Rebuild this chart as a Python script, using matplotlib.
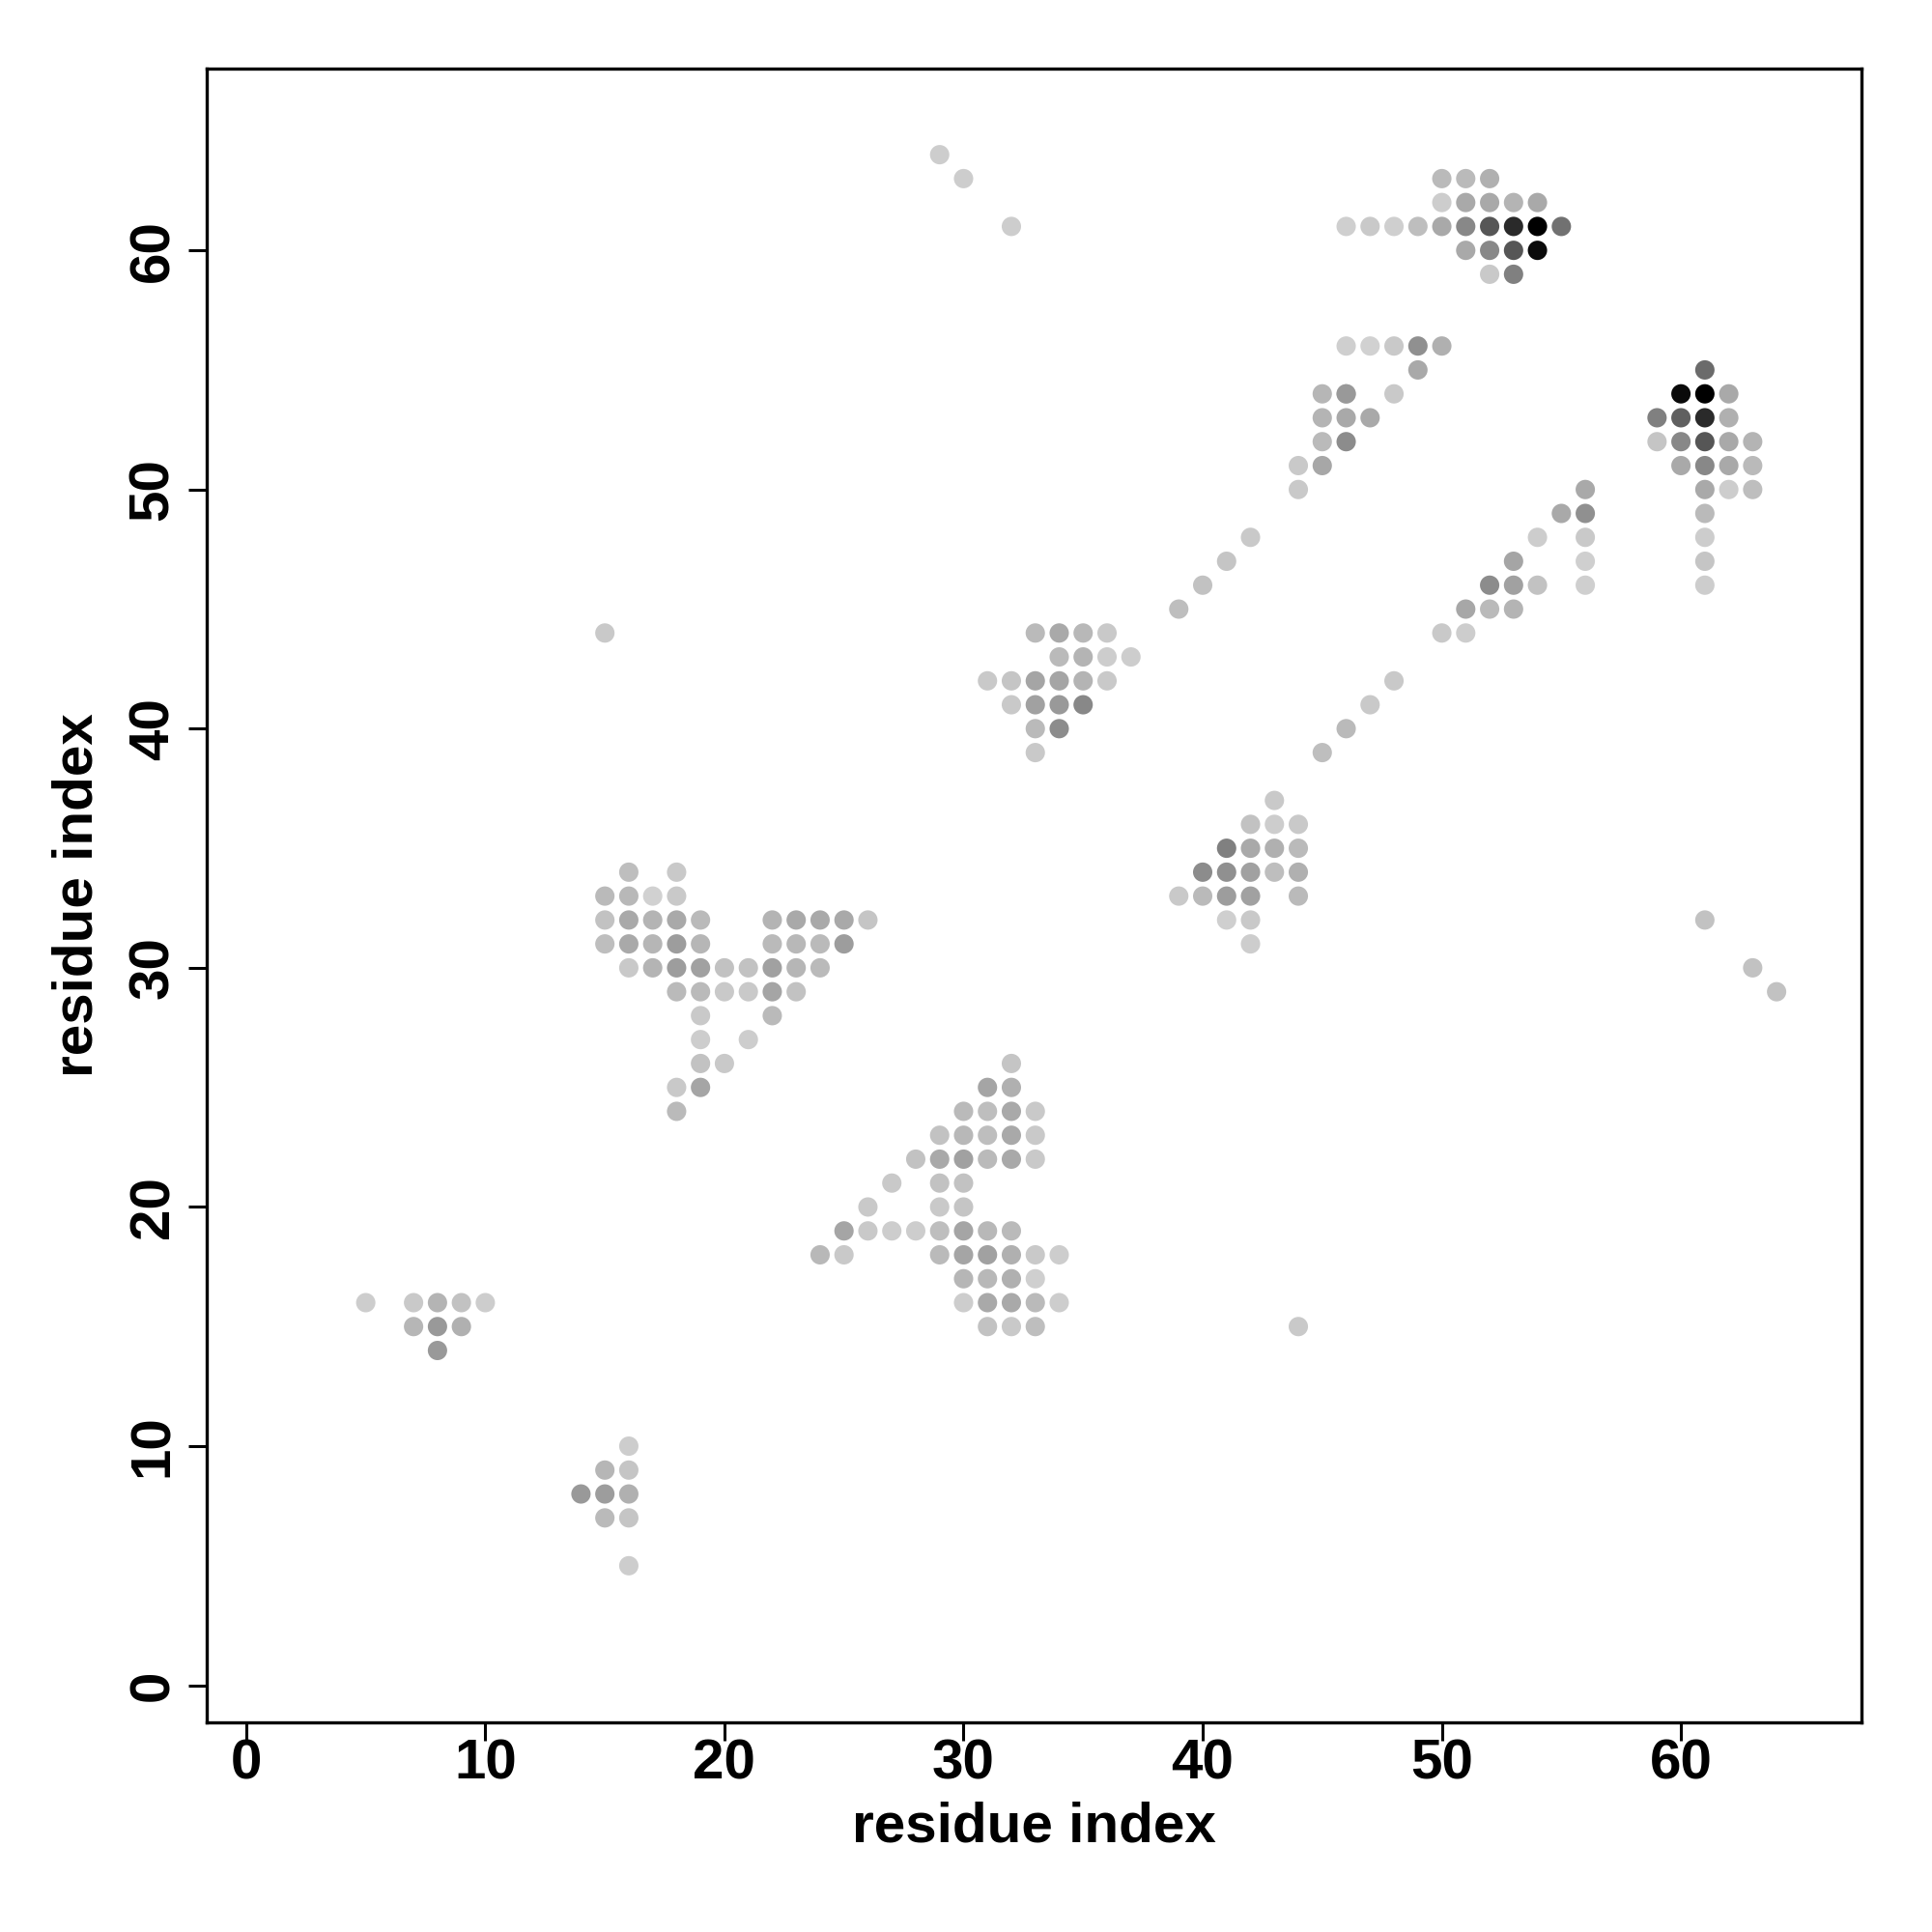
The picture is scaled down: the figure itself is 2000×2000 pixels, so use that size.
import matplotlib
matplotlib.use("Agg")
import matplotlib.pyplot as plt

# contact map: residue i, residue j, contact strength (0 = faint, 1 = strongest)
res_i = [
    5, 7, 8, 9, 10, 7, 8, 9, 8,
    16, 15, 16, 14, 15, 16, 15, 16, 16,
    32, 31, 32, 30, 31, 32, 33, 29, 30, 31, 32, 33,
    28, 29, 30, 31, 32, 33, 27, 29, 30, 26, 29, 30,
    25, 26, 27, 28, 29, 30, 31, 32,
    24, 25, 29, 30, 31, 32, 33, 34,
    30, 31, 32, 33, 30, 31, 32, 33, 34, 31, 32, 33,
    44,
    16, 18, 15, 16, 17, 18,
    15, 16, 17, 18, 19, 22, 23, 24, 25, 26,
    15, 16, 17, 18, 19, 22, 23, 24, 25,
    16, 17, 18, 19, 20, 21, 22, 23, 24,
    18, 19, 20, 21, 22, 23, 19, 22, 19, 21, 19, 20, 18, 19, 18,
    15,
    43, 42, 43, 44, 41, 42, 43, 44, 40, 41, 42, 43, 44,
    39, 40, 41, 42, 44, 41, 42, 42,
    33, 34, 35, 36, 34, 35, 36, 37, 31, 32, 33, 34, 35, 36,
    32, 33, 34, 35, 33, 34, 33,
    39, 40, 41, 42, 44, 44, 45, 45, 46, 45, 46, 47, 46, 48, 45, 46,
    46, 47, 48, 49, 50, 49,
    45, 46, 47, 48, 50, 51, 51, 52, 53, 52, 53, 54, 56, 53, 56, 54, 56,
    55, 56, 56,
    61, 60, 61, 62, 59, 60, 61, 62, 59, 60, 61, 62, 63,
    60, 61, 62, 63, 61, 62, 63, 61, 61, 61, 61,
    50, 51, 52, 50, 51, 52, 53, 54,
    46, 47, 48, 49, 50, 51, 52, 53, 54, 55,
    51, 52, 53, 54, 52, 53,
    29, 30, 32, 61, 63, 64,
]
res_j = [
    16, 16, 16, 16, 16, 15, 15, 15, 14,
    10, 9, 9, 8, 8, 8, 7, 7, 5,
    26, 25, 25, 24, 24, 24, 24, 23, 23, 23, 23, 23,
    22, 22, 22, 22, 22, 22, 21, 21, 21, 20, 20, 20,
    19, 19, 19, 19, 19, 19, 19, 19,
    18, 18, 18, 18, 18, 18, 18, 18,
    17, 17, 17, 17, 16, 16, 16, 16, 16, 15, 15, 15,
    15,
    34, 34, 33, 33, 33, 33,
    32, 32, 32, 32, 32, 32, 32, 32, 32, 32,
    31, 31, 31, 31, 31, 31, 31, 31, 31,
    30, 30, 30, 30, 30, 30, 30, 30, 30,
    29, 29, 29, 29, 29, 29, 28, 28, 27, 27, 26, 26, 25, 25, 24,
    44,
    37, 36, 36, 36, 35, 35, 35, 35, 34, 34, 34, 34, 34,
    33, 33, 33, 33, 33, 32, 32, 31,
    44, 44, 44, 44, 43, 43, 43, 43, 42, 42, 42, 42, 42, 42,
    41, 41, 41, 41, 40, 40, 39,
    45, 46, 47, 48, 50, 51, 51, 52, 52, 53, 53, 53, 54, 54, 54, 54,
    56, 56, 56, 56, 56, 55,
    39, 40, 41, 42, 44, 44, 45, 45, 45, 46, 46, 46, 46, 47, 47, 48, 48,
    49, 49, 50,
    55, 54, 54, 54, 53, 53, 53, 53, 52, 52, 52, 52, 52,
    51, 51, 51, 51, 50, 50, 50, 49, 48, 47, 46,
    63, 63, 63, 62, 62, 62, 62, 62,
    61, 61, 61, 61, 61, 61, 61, 61, 61, 61,
    60, 60, 60, 60, 59, 59,
    64, 63, 61, 32, 30, 29,
]
strength = [
    0.02, 0.04, 0.14, 0.07, 0.02, 0.13, 0.27, 0.16, 0.27,
    0.02, 0.13, 0.06, 0.27, 0.25, 0.16, 0.11, 0.06, 0.02,
    0.06, 0.21, 0.16, 0.11, 0.09, 0.19, 0.04, 0.07, 0.12, 0.09, 0.19, 0.04,
    0.07, 0.19, 0.23, 0.11, 0.19, 0.04, 0.04, 0.07, 0.07, 0.04, 0.04, 0.06,
    0.21, 0.04, 0.02, 0.02, 0.09, 0.21, 0.12, 0.11,
    0.12, 0.04, 0.11, 0.21, 0.23, 0.16, 0.04, 0.02,
    0.13, 0.12, 0.16, 0.01, 0.02, 0.19, 0.19, 0.11, 0.02, 0.07, 0.04, 0.09,
    0.04,
    0.09, 0.04, 0.11, 0.12, 0.0, 0.04,
    0.07, 0.19, 0.14, 0.19, 0.11, 0.14, 0.19, 0.19, 0.19, 0.06,
    0.09, 0.19, 0.13, 0.25, 0.13, 0.11, 0.12, 0.11, 0.25,
    0.04, 0.14, 0.25, 0.23, 0.07, 0.07, 0.23, 0.13, 0.11,
    0.11, 0.11, 0.04, 0.04, 0.21, 0.07, 0.04, 0.11, 0.02, 0.02, 0.07, 0.04, 0.04, 0.21, 0.11,
    0.04,
    0.04, 0.07, 0.02, 0.04, 0.39, 0.19, 0.16, 0.11, 0.33, 0.31, 0.23, 0.09, 0.16,
    0.04, 0.11, 0.25, 0.23, 0.11, 0.01, 0.04, 0.02,
    0.11, 0.19, 0.12, 0.04, 0.11, 0.14, 0.02, 0.02, 0.04, 0.06, 0.21, 0.21, 0.14, 0.04,
    0.04, 0.23, 0.27, 0.35, 0.11, 0.33, 0.04,
    0.09, 0.07, 0.06, 0.04, 0.04, 0.04, 0.2, 0.11, 0.33, 0.14, 0.19, 0.19, 0.09, 0.04, 0.13, 0.27,
    0.01, 0.0, 0.04, 0.31, 0.16, 0.19,
    0.09, 0.11, 0.04, 0.04, 0.04, 0.02, 0.2, 0.11, 0.14, 0.33, 0.23, 0.07, 0.01, 0.21, 0.01, 0.02, 0.04,
    0.19, 0.31, 0.19,
    0.49, 0.95, 1.0, 0.19, 0.39, 0.54, 0.8, 0.16, 0.06, 0.35, 0.59, 0.19, 0.14,
    0.19, 0.35, 0.19, 0.11, 0.19, 0.02, 0.09, 0.11, 0.02, 0.06, 0.02,
    0.11, 0.11, 0.16, 0.02, 0.19, 0.19, 0.14, 0.19,
    0.01, 0.04, 0.01, 0.09, 0.19, 0.35, 0.59, 0.8, 1.0, 0.46,
    0.19, 0.35, 0.59, 0.95, 0.04, 0.39,
    0.02, 0.02, 0.02, 0.07, 0.07, 0.07,
]

plt.rcParams['font.family'] = ['Liberation Sans', 'DejaVu Sans']
plt.rcParams['font.weight'] = 'bold'

fig = plt.figure(figsize=(10, 10), dpi=200)
ax = fig.add_axes([0.107, 0.1085, 0.8565, 0.856])

colors = [str(0.82 * (1 - s)) for s in strength]
ax.scatter(res_i, res_j, s=52, c=colors, edgecolors='none', zorder=2)

ax.set_xlim(-1.65, 67.55)
ax.set_ylim(-1.55, 67.6)
ticks = [0, 10, 20, 30, 40, 50, 60]
ax.set_xticks(ticks)
ax.set_yticks(ticks)
ax.set_xticklabels([str(t) for t in ticks], fontsize=21, fontweight='bold')
ax.set_yticklabels([str(t) for t in ticks], fontsize=21, fontweight='bold',
                   rotation=90, va='center')
ax.tick_params(direction='out', length=7, width=1.1)
ax.tick_params(axis='x', pad=-1)
ax.tick_params(axis='y', pad=3)
for sp in ax.spines.values():
    sp.set_linewidth(1.2)

ax.set_xlabel('residue index', fontsize=21, fontweight='bold', labelpad=4)
ax.set_ylabel('residue index', fontsize=21, fontweight='bold', labelpad=9)

fig.savefig('out.png', dpi=200)
